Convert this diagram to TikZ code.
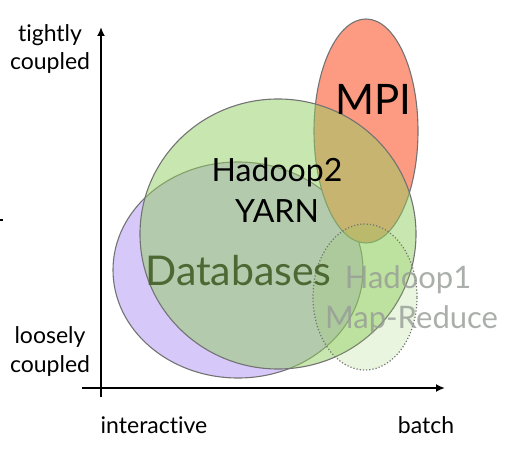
\documentclass[tikz,border=0pt]{standalone}
\usepackage{fontspec}
\setmainfont{Lato}[Ligatures={NoCommon,NoRare,NoContextual}]
\usetikzlibrary{arrows.meta}
\definecolor{purp}{RGB}{215,200,250}
\definecolor{grn}{RGB}{145,205,95}
\definecolor{salmon}{RGB}{252,155,130}
\definecolor{outl}{RGB}{115,115,115}
\definecolor{dbtext}{RGB}{78,104,52}
\definecolor{hgray}{RGB}{150,155,150}
\tikzset{
  axis/.style={line width=2.2pt, -{Latex[length=9pt,width=8pt]}},
  blob/.style={draw=outl, line width=1.1pt},
  axlabel/.style={anchor=base, inner sep=0pt, font=\fontsize{23}{23}\selectfont},
}
\begin{document}
\begin{tikzpicture}[x=1pt,y=-1pt]
\useasboundingbox (0,0) rectangle (508,473);
% Databases (purple)
\path[blob, fill=purp] (238,270) ellipse [x radius=125pt, y radius=108pt];
% MPI
\path[blob, fill=salmon] (366,131) ellipse [x radius=52pt, y radius=112pt];
% Hadoop2 YARN
\path[blob, fill=grn, fill opacity=0.5] (278,234) ellipse [x radius=138pt, y radius=135pt];
% Hadoop1
\path[draw=outl, line width=1.2pt, dotted, fill=grn, fill opacity=0.2] (365,297) ellipse [x radius=52pt, y radius=73pt];
% axes
\coordinate (vb) at (101,397);
\coordinate (vt) at (101,27);
\coordinate (hl) at (82,388);
\coordinate (hr) at (445,388);
\draw[axis] (vb) -- (vt);
\draw[axis] (hl) -- (hr);
\coordinate (m1) at (0,220);
\coordinate (m2) at (3,220);
\draw[line width=1.5pt] (m1) -- (m2);
% labels
\node[axlabel] (t1) at (50,42) {tightly};
\node[axlabel] (t2) at (50,70) {coupled};
\node[axlabel] (l1) at (50,343) {loosely};
\node[axlabel] (l2) at (50,372) {coupled};
\node[axlabel] (ia) at (154,433) {interactive};
\node[axlabel] (ba) at (426,433) {batch};
\node[anchor=base, inner sep=0pt, font=\fontsize{42}{42}\selectfont] (mpi) at (373,115) {MPI};
\node[anchor=base, inner sep=0pt, font=\fontsize{32}{32}\selectfont] (h2a) at (277,182) {Hadoop2};
\node[anchor=base, inner sep=0pt, font=\fontsize{32}{32}\selectfont] (h2b) at (277,222) {YARN};
\node[anchor=base, inner sep=0pt, text=dbtext, font=\fontsize{41}{41}\selectfont] (db) at (238.5,285) {Databases};
\node[anchor=base, inner sep=0pt, text=hgray, text opacity=0.8, font=\fontsize{31}{31}\selectfont] (h1a) at (408,288) {Hadoop1};
\node[anchor=base, inner sep=0pt, text=hgray, text opacity=0.8, font=\fontsize{31}{31}\selectfont] (h1b) at (411.5,328) {Map-Reduce};
\end{tikzpicture}
\end{document}
